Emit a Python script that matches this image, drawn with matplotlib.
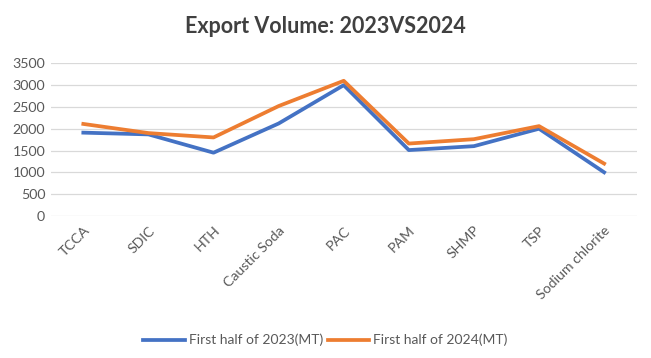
import matplotlib.pyplot as plt
import numpy as np

plt.rcParams['font.family'] = ['Lato', 'DejaVu Sans']

# data
categories = ['TCCA', 'SDIC', 'HTH', 'Caustic Soda', 'PAC', 'PAM', 'SHMP', 'TSP', 'Sodium chlorite']
vol_2023 = [1910, 1870, 1450, 2120, 3000, 1510, 1600, 2000, 1000]
vol_2024 = [2110, 1900, 1800, 2520, 3100, 1660, 1760, 2060, 1200]
series_names = ['First half of 2023(MT)', 'First half of 2024(MT)']
yticks = [0, 500, 1000, 1500, 2000, 2500, 3000, 3500]

fig = plt.figure(figsize=(6.51, 3.58), dpi=100)
ax = fig.add_axes([0.078, 0.397, 0.90, 0.426])

x = np.arange(len(categories))
ax.plot(x, vol_2023, color='#4472C4', lw=2.7, label=series_names[0], solid_joinstyle='round')
ax.plot(x, vol_2024, color='#ED7D31', lw=2.7, label=series_names[1], solid_joinstyle='round')

ax.set_xlim(-0.5, len(categories) - 0.5)
ax.set_ylim(0, 3500)
ax.set_yticks(yticks)
ax.set_xticks(x)
ax.set_xticklabels(categories, rotation=45, ha='right', rotation_mode='anchor')
ax.tick_params(axis='both', length=0, labelsize=10.2, colors='#595959')
ax.tick_params(axis='x', pad=6)
ax.tick_params(axis='y', pad=4)
ax.grid(axis='y', color='#d9d9d9', lw=0.9)
ax.set_axisbelow(True)
for s in ax.spines.values():
    s.set_visible(False)

fig.text(0.5, 0.925, 'Export Volume: 2023VS2024', ha='center', va='center',
         fontsize=15.5, fontweight='bold', color='#404040')

fig.legend(loc='center', bbox_to_anchor=(0.5, 0.05), ncol=2, frameon=False,
           fontsize=10, labelcolor='#595959', handlelength=3.0,
           handletextpad=0.3, columnspacing=0.3)

fig.savefig('out.png', dpi=100)
